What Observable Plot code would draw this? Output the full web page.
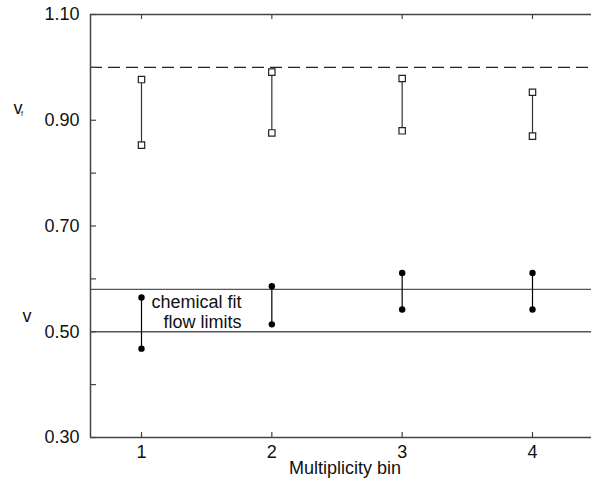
<!DOCTYPE html>
<html>
<head>
<meta charset="utf-8">
<script src="https://cdn.jsdelivr.net/npm/d3@7"></script>
<script src="https://cdn.jsdelivr.net/npm/@observablehq/plot@0.6"></script>
<style>
  html, body { margin: 0; padding: 0; background: #fff; }
  svg { display: block; }
</style>
</head>
<body>
<div id="chart"></div>
<script>
// Multiplicity bins
const bins = [1, 2, 3, 4];
// Upper series (open squares): v_f range
const vfLow  = [0.853, 0.876, 0.880, 0.870];
const vfHigh = [0.977, 0.991, 0.979, 0.953];
// Lower series (filled dots): v range
const vLow  = [0.468, 0.514, 0.542, 0.542];
const vHigh = [0.565, 0.586, 0.611, 0.611];
// Reference lines
const dashedLevel = [1.00];
const solidLevels = [0.58, 0.50];
// Y tick values and labels
const yTicks = [0.30, 0.40, 0.50, 0.60, 0.70, 0.80, 0.90, 1.00, 1.10];
const yLabelled = ["0.30", "0.50", "0.70", "0.90", "1.10"];
// Side labels (y positions in data units)
const vfLabel = {y: 0.9234, main: "v", sub: "f"};
const vLabel = {y: 0.530, main: "v"};
const annotation = ["chemical fit", "flow limits"];

const upper = bins.map((b, i) => ({bin: b, lo: vfLow[i], hi: vfHigh[i]}));
const lower = bins.map((b, i) => ({bin: b, lo: vLow[i], hi: vHigh[i]}));
const font = "'Liberation Sans', Arial, Helvetica, sans-serif";

const W = 591, H = 485, mL = 90, mR = 0, mT = 14, mB = 48;
const innerW = W - mL - mR, innerH = H - mT - mB;
const tickLen = 6;
const xDomain = [0.6087, 4.4527];

const chart = Plot.plot({
  width: W,
  height: H,
  marginLeft: mL,
  marginRight: mR,
  marginTop: mT,
  marginBottom: mB,
  style: {fontFamily: font, fontSize: "18px", color: "#000", background: "#fff"},
  x: {domain: xDomain},
  y: {domain: [0.30, 1.10]},
  marks: [
    // reference lines
    Plot.ruleY(dashedLevel, {stroke: "#222", strokeWidth: 1.3, strokeDasharray: "12,6"}),
    Plot.ruleY(solidLevels, {stroke: "#555", strokeWidth: 1.3}),
    // frame lines
    Plot.ruleY([0.30, 1.10], {stroke: "#444", strokeWidth: 1.5}),
    Plot.ruleX([xDomain[0]], {stroke: "#444", strokeWidth: 1.5}),
    // inward ticks
    Plot.ruleY(yTicks, {insetRight: innerW - tickLen, stroke: "#444", strokeWidth: 1.2}),
    Plot.ruleX(bins, {insetTop: innerH - 5, stroke: "#444", strokeWidth: 1.2}),
    Plot.ruleX(bins, {insetBottom: innerH - 5, stroke: "#444", strokeWidth: 1.2}),
    // axis labels
    Plot.axisY({ticks: yTicks, tickSize: 0, tickPadding: 11,
      tickFormat: d => yLabelled.includes(d.toFixed(2)) ? d.toFixed(2) : "",
      fontSize: 18, label: null, fill: "#111"}),
    Plot.axisX({ticks: bins, tickSize: 0, tickPadding: 8, tickFormat: d => String(d),
      fontSize: 18, label: null, fill: "#111"}),
    // x axis title
    Plot.text(["Multiplicity bin"], {frameAnchor: "bottom", lineAnchor: "middle", dy: 31, dx: 4, fontSize: 18, fill: "#111", text: d => d}),
    // upper series
    Plot.ruleX(upper, {x: "bin", y1: "lo", y2: "hi", stroke: "#333", strokeWidth: 1.2}),
    Plot.dot(upper, {x: "bin", y: "lo", symbol: "square", r: 3.6, stroke: "#222", fill: "#fff", strokeWidth: 1.2}),
    Plot.dot(upper, {x: "bin", y: "hi", symbol: "square", r: 3.6, stroke: "#222", fill: "#fff", strokeWidth: 1.2}),
    // lower series
    Plot.ruleX(lower, {x: "bin", y1: "lo", y2: "hi", stroke: "#000", strokeWidth: 1.2}),
    Plot.dot(lower, {x: "bin", y: "lo", r: 3.2, fill: "#000"}),
    Plot.dot(lower, {x: "bin", y: "hi", r: 3.2, fill: "#000"}),
    // annotation
    Plot.text([annotation[0]], {x: () => bins[0], y: () => solidLevels[0], text: d => d, textAnchor: "end", dx: 100, dy: 13, fontSize: 18, fill: "#111"}),
    Plot.text([annotation[1]], {x: () => bins[0], y: () => solidLevels[0], text: d => d, textAnchor: "end", dx: 100, dy: 33, fontSize: 18, fill: "#111"}),
    // side labels
    Plot.text([vfLabel], {frameAnchor: "left", y: "y", text: "main", textAnchor: "start", dx: -77, fontSize: 18, fill: "#111"}),
    Plot.text([vfLabel], {frameAnchor: "left", y: "y", text: "sub", textAnchor: "start", dx: -69.5, dy: 6, fontSize: 7, fill: "#111"}),
    Plot.text([vLabel], {frameAnchor: "left", y: "y", text: "main", textAnchor: "start", dx: -68, fontSize: 18, fill: "#111"})
  ]
});
document.getElementById("chart").appendChild(chart);
</script>
</body>
</html>
